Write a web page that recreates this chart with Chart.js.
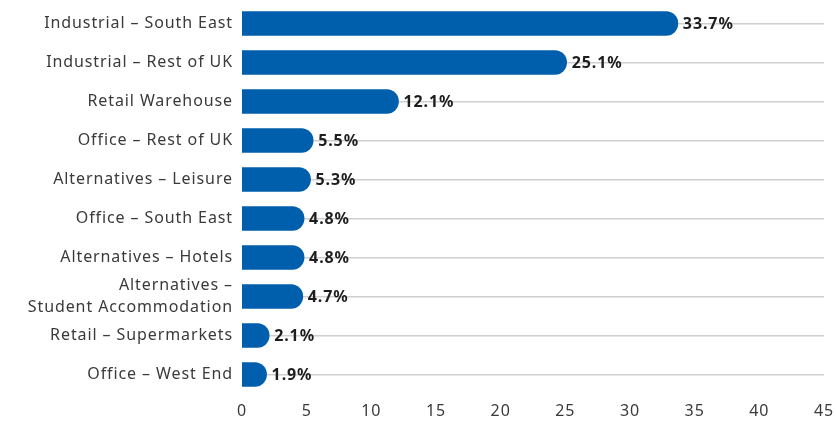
<!DOCTYPE html>
<html>
<head>
<meta charset="utf-8">
<script src="https://cdn.jsdelivr.net/npm/chart.js@4"></script>
<style>
  html, body { margin: 0; padding: 0; background: #fff; }
  #wrap { width: 836px; height: 421px; }
</style>
</head>
<body>
<div id="wrap"><canvas id="sectorChart"></canvas></div>
<script>
// Sector weightings (% of portfolio)
const sectors = [
  "Industrial – South East",
  "Industrial – Rest of UK",
  "Retail Warehouse",
  "Office – Rest of UK",
  "Alternatives – Leisure",
  "Office – South East",
  "Alternatives – Hotels",
  ["Alternatives –", "Student Accommodation"],
  "Retail – Supermarkets",
  "Office – West End",
];
const weights = [33.7, 25.1, 12.1, 5.5, 5.3, 4.8, 4.8, 4.7, 2.1, 1.9];
const xTicks = [0, 5, 10, 15, 20, 25, 30, 35, 40, 45];

const FONT = "'Noto Sans', 'Open Sans', sans-serif";

// Wider tracking to get closer to the original geometric typeface
const tracking = {
  id: "tracking",
  beforeDraw(chart) {
    chart.ctx.letterSpacing = "0.9px";
  },
};

// Draw value labels just past the end of each bar
const valueLabels = {
  id: "valueLabels",
  afterDatasetsDraw(chart) {
    const ctx = chart.ctx;
    const meta = chart.getDatasetMeta(0);
    ctx.save();
    ctx.font = "bold 16px " + FONT;
    ctx.fillStyle = "#1e1e1e";
    ctx.textAlign = "left";
    ctx.textBaseline = "middle";
    meta.data.forEach((bar, i) => {
      ctx.fillText(weights[i].toFixed(1) + "%", bar.x + 5, bar.y + 1);
    });
    ctx.restore();
  },
};

const ctx = document.getElementById("sectorChart").getContext("2d");

new Chart(ctx, {
  type: "bar",
  data: {
    labels: sectors,
    datasets: [
      {
        data: weights,
        backgroundColor: "#005fad",
        borderRadius: 12,
        borderSkipped: "start",
        barThickness: 24,
      },
    ],
  },
  options: {
    indexAxis: "y",
    responsive: true,
    maintainAspectRatio: false,
    animation: false,
    layout: { padding: { top: 4, right: 12, left: 0, bottom: 0 } },
    plugins: {
      legend: { display: false },
      tooltip: { enabled: false },
    },
    scales: {
      x: {
        min: 0,
        max: 45,
        afterBuildTicks: (scale) => {
          scale.ticks = xTicks.map((v) => ({ value: v }));
        },
        grid: { display: false, drawTicks: false },
        border: { display: false },
        ticks: {
          color: "#3a3a3a",
          padding: 8,
          font: { family: FONT, size: 16 },
        },
        afterFit: (scale) => {
          scale.height = 27;
          scale.paddingLeft = 0;
          scale.paddingRight = 0;
        },
      },
      y: {
        grid: {
          offset: false,
          color: "#cfcfcf",
          lineWidth: 1.5,
          drawTicks: false,
        },
        border: { display: false },
        ticks: {
          autoSkip: false,
          color: "#3a3a3a",
          padding: 9,
          font: { family: FONT, size: 16, lineHeight: 1.35 },
        },
        afterFit: (scale) => {
          scale.width = 242;
          scale.paddingTop = 0;
          scale.paddingBottom = 0;
        },
      },
    },
  },
  plugins: [tracking, valueLabels],
});
</script>
</body>
</html>
